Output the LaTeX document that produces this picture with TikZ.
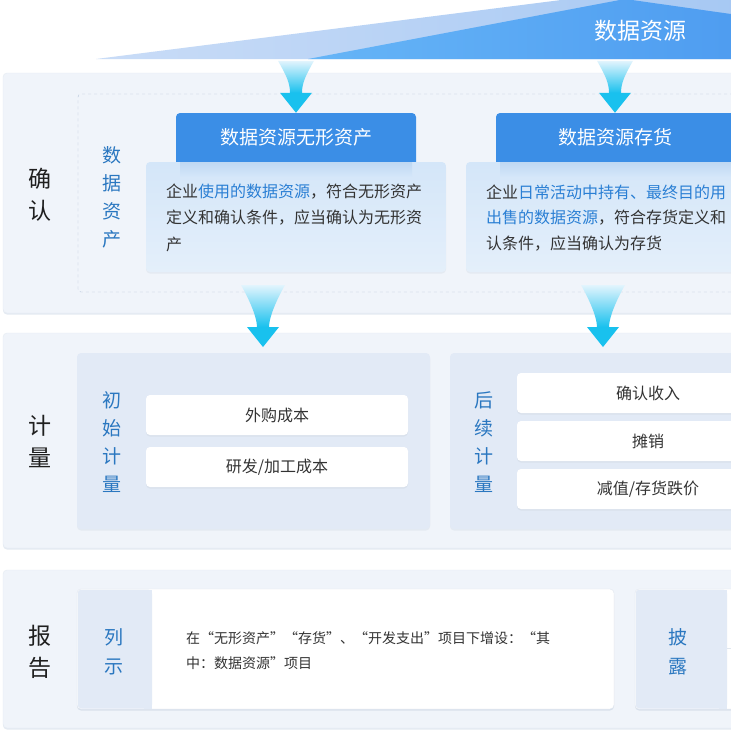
\documentclass[tikz,border=0pt]{standalone}
\usepackage{fontspec}
\setmainfont{Noto Sans CJK SC}
\definecolor{panelbg}{HTML}{F0F4FA}
\definecolor{panelbd}{HTML}{E6ECF3}
\definecolor{dashc}{HTML}{B3C3D8}
\definecolor{hdr}{HTML}{3B8EE6}
\definecolor{lbtop}{HTML}{D4E6F9}
\definecolor{lbbot}{HTML}{E4EFFA}
\definecolor{lbshadow}{HTML}{BFD8F3}
\definecolor{innerbg}{HTML}{E2EAF6}
\definecolor{vblue}{HTML}{2A77C0}
\definecolor{hlblue}{HTML}{2A7FD4}
\definecolor{txtdark}{HTML}{333333}
\definecolor{labdark}{HTML}{1F1F1F}
\definecolor{arrtop}{HTML}{E2F4FD}
\definecolor{arrhead}{HTML}{19C1EE}
\definecolor{triAa}{HTML}{C9DCF7}
\definecolor{triAb}{HTML}{A6C8F3}
\definecolor{triBa}{HTML}{66B5F7}
\definecolor{triBb}{HTML}{4E9CF0}
\definecolor{wbd}{HTML}{E1E7EF}
\definecolor{shadowc}{HTML}{D9E1EC}
\definecolor{shadowp}{HTML}{E4EAF2}
\newcommand\hlt[1]{\textcolor{hlblue}{#1}}
\tikzset{
  rbox/.style 2 args={minimum width=#1, minimum height=#2, anchor=north west, inner sep=0pt, outer sep=0pt},
  softshadow/.style={preaction={fill=#1, transform canvas={yshift=-1.5pt}}},
  panel/.style={fill=panelbg, draw=panelbd, rounded corners=4, softshadow=shadowp},
  biglabel/.style={align=center, text=labdark, font=\fontsize{23}{32}\selectfont, inner sep=0pt},
  vlabel/.style={align=center, text=vblue, font=\fontsize{19}{28}\selectfont, inner sep=0pt},
  bodytxt/.style={anchor=west, inner sep=0pt, text=txtdark, font=\fontsize{16}{16}\selectfont},
  reptxt/.style={anchor=west, inner sep=0pt, text=txtdark, font=\fontsize{14}{14}\selectfont},
  hdrtxt/.style={text=white, font=\fontsize{19}{19}\selectfont, inner sep=0pt},
  lightbox/.style={top color=lbtop, bottom color=lbbot, rounded corners=4, softshadow=shadowp},
  innerbox/.style={fill=innerbg, rounded corners=4, softshadow=shadowp},
  wbox/.style={fill=white, rounded corners=4, text=txtdark, font=\fontsize{16}{16}\selectfont, softshadow=shadowc},
  repbox/.style={fill=white, draw=wbd, rounded corners=4, softshadow=shadowc},
  pics/funnel/.style 2 args={code={
    \shade[top color=arrtop, bottom color=arrhead]
      (-#2,-#1) .. controls (-#2+8,-#1+14) and (-6,-30) .. (-6,-20)
      -- (6,-20) .. controls (6,-30) and (#2-8,-#1+14) .. (#2,-#1) -- cycle;
    \fill[arrhead] (-16,-20) -- (16,-20) -- (0,0) -- cycle;
  }}
}
\begin{document}
\begin{tikzpicture}[x=1pt,y=-1pt]
\useasboundingbox (0,0) rectangle (731,732);
\fill[white] (0,0) rectangle (731,732);
\clip (0,0) rectangle (731,732);

% top roof
\shade[left color=triAa, right color=triAb] (96,59) -- (640,-10) -- (745,-10) -- (745,59) -- cycle;
\shade[left color=triBa, right color=triBb] (308,59) -- (625,-1) -- (745,16) -- (745,59) -- cycle;
\node[text=white, font=\fontsize{23}{23}\selectfont, inner sep=0pt] (src) at (640,31) {数据资源};

% panels
\node[panel, rbox={740}{240}] (p1) at (3,73) {};
\node[panel, rbox={740}{215}] (p2) at (3,333) {};
\node[panel, rbox={740}{158}] (p3) at (3,570) {};

\node[biglabel] (l1) at (40,195) {确\\认};
\node[biglabel] (l2) at (40,441) {计\\量};
\node[biglabel] (l3) at (40,652) {报\\告};

% recognition
\node[draw=dashc, dashed, rounded corners=3, rbox={670}{198}] (da) at (78,94) {};
\node[vlabel] (v1) at (112,197) {数\\据\\资\\产};

\fill[hdr, rounded corners=4] (176,113) rectangle (416,170);
\node[lightbox, rbox={300}{110}] (lb1) at (146,162) {};
\shade[top color=lbshadow, bottom color=lbtop] (180,162) rectangle (412,176);
\node[hdrtxt, minimum width=240, minimum height=49] (h1) at (296,137.5) {数据资源无形资产};
\node[bodytxt] (t11) at (166,192) {企业\hlt{使用的数据资源}，符合无形资产};
\node[bodytxt] (t12) at (166,218) {定义和确认条件，应当确认为无形资};
\node[bodytxt] (t13) at (166,244) {产};

\fill[hdr, rounded corners=4] (496,113) rectangle (760,170);
\node[lightbox, rbox={300}{110}] (lb2) at (466,162) {};
\shade[top color=lbshadow, bottom color=lbtop] (500,162) rectangle (760,176);
\node[hdrtxt, minimum width=238, minimum height=49] (h2) at (615,137.5) {数据资源存货};
\node[bodytxt] (t21) at (486,192) {企业\hlt{日常活动中持有、最终目的用}};
\node[bodytxt] (t22) at (486,218) {\hlt{出售的数据资源}，符合存货定义和};
\node[bodytxt] (t23) at (486,244) {认条件，应当确认为存货};

% arrows
\pic at (h1.north) {funnel={52}{18}};
\pic at (h2.north) {funnel={52}{18}};
\coordinate (d1) at (263,347);
\coordinate (d2) at (603,347);
\pic at (d1) {funnel={62}{22}};
\pic at (d2) {funnel={62}{22}};

% measurement
\node[innerbox, rbox={353}{176}] (ib1) at (77,353) {};
\node[innerbox, rbox={300}{176}] (ib2) at (450,353) {};
\node[vlabel] (v2) at (112,442) {初\\始\\计\\量};
\node[vlabel] (v3) at (484,442) {后\\续\\计\\量};
\node[wbox, rbox={262}{40}] (w1) at (146,395) {外购成本};
\node[wbox, rbox={262}{40}] (w2) at (146,447) {研发/加工成本};
\node[wbox, rbox={262}{40}] (w3) at (517,373) {确认收入};
\node[wbox, rbox={262}{40}] (w4) at (517,421) {摊销};
\node[wbox, rbox={262}{40}] (w5) at (517,469) {减值/存货跌价};

% report
\node[repbox, rbox={537}{120}] (r1) at (77,589) {};
\fill[innerbg, rounded corners=4] (77.5,589.5) rectangle (152,708.5);
\fill[innerbg] (144,589.5) rectangle (152,708.5);
\node[vlabel, font=\fontsize{19}{29}\selectfont] (v4) at (114,652) {列\\示};
\node[reptxt] (rt1) at (186,638) {在“无形资产”“存货”、“开发支出”项目下增设：“其};
\node[reptxt] (rt2) at (186,663) {中：数据资源”项目};

\node[repbox, rbox={130}{120}] (r2) at (635,589) {};
\fill[innerbg, rounded corners=4] (635.5,589.5) rectangle (727,708.5);
\fill[innerbg] (719,589.5) rectangle (727,708.5);
\draw[wbd] (727,648) -- (r2.east |- 0,648);
\node[vlabel, font=\fontsize{19}{29}\selectfont] (v5) at (678,652) {披\\露};
\end{tikzpicture}
\end{document}
